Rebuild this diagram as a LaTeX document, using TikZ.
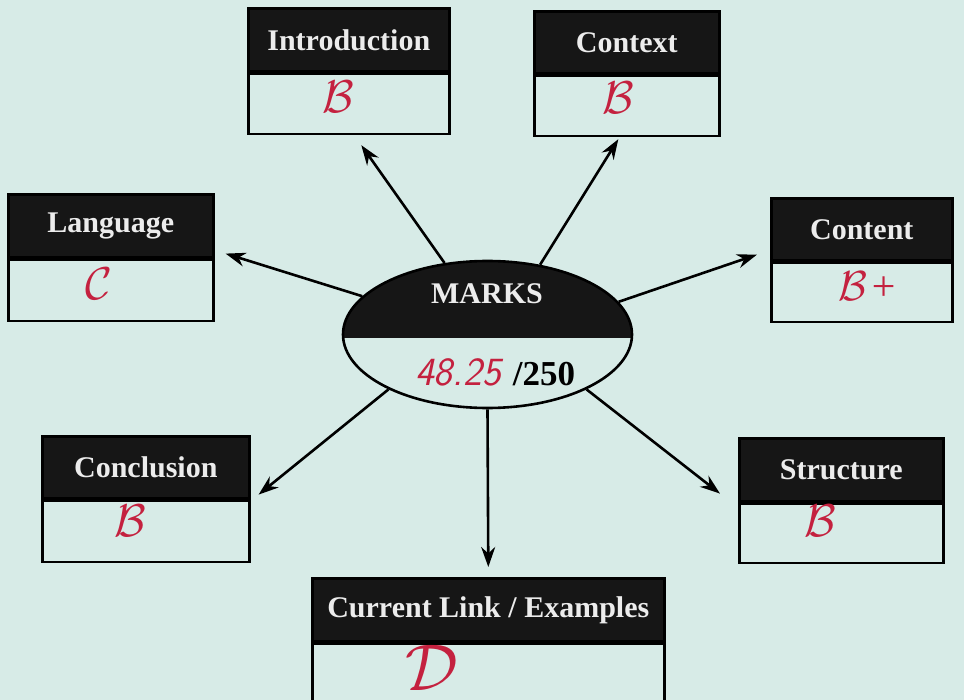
\documentclass[tikz,border=0pt]{standalone}
\usepackage{fontspec}
\setmainfont{Liberation Serif}
\usetikzlibrary{shapes.geometric,arrows.meta}
\definecolor{bg}{HTML}{D7EBE7}
\definecolor{hd}{HTML}{161616}
\definecolor{ink}{HTML}{C4213F}
\definecolor{pap}{HTML}{ECECEC}
\tikzset{
  hdr/.style={draw=black, line width=2.6pt, fill=hd, text=pap, font=\bfseries\fontsize{30}{32}\selectfont, inner sep=0pt, anchor=north west},
  bodyb/.style={draw=black, line width=2.6pt, fill=bg, inner sep=0pt, anchor=north},
  grade/.style={text=ink, inner sep=0pt},
  arr/.style={line width=2.6pt, -{Stealth[length=20pt,width=14pt]}},
}
\newcommand\hw[1]{\scalebox{4.6}{$\mathcal{#1}$}}
\begin{document}
\begin{tikzpicture}[x=1pt,y=-1pt]
\fill[bg] (0,0) rectangle (964,700);
\useasboundingbox (0,0) rectangle (964,700);

% boxes
\node[hdr, minimum width=201pt, minimum height=63pt] (intro-h) at (247,7) {Introduction};
\node[bodyb, minimum width=201pt, minimum height=60pt] (intro-b) at (intro-h.south) {};
\node[hdr, minimum width=185pt, minimum height=62pt] (ctx-h) at (533,10) {Context};
\node[bodyb, minimum width=185pt, minimum height=60pt] (ctx-b) at (ctx-h.south) {};
\node[hdr, minimum width=205pt, minimum height=63pt] (lang-h) at (7,193) {Language};
\node[bodyb, minimum width=205pt, minimum height=61pt] (lang-b) at (lang-h.south) {};
\node[hdr, minimum width=181pt, minimum height=62pt] (cont-h) at (770,197) {Content};
\node[bodyb, minimum width=181pt, minimum height=59pt] (cont-b) at (cont-h.south) {};
\node[hdr, minimum width=207pt, minimum height=62pt] (concl-h) at (41,435) {Conclusion};
\node[bodyb, minimum width=207pt, minimum height=61pt] (concl-b) at (concl-h.south) {};
\node[hdr, minimum width=204pt, minimum height=63pt] (struct-h) at (738,437) {Structure};
\node[bodyb, minimum width=204pt, minimum height=59pt] (struct-b) at (struct-h.south) {};
\node[hdr, minimum width=352pt, minimum height=63pt] (cur-h) at (311,577) {Current Link / Examples};
\node[bodyb, minimum width=352pt, minimum height=62pt] (cur-b) at (cur-h.south) {};

% grades
\node[grade] (intro-g) at (338,97) {\hw{B}};
\node[grade] (ctx-g) at (618,98) {\hw{B}};
\node[grade] (lang-g) at (99,284) {\hw{C}};
\node[grade] (cont-g) at (868,286) {\scalebox{4.2}{$\mathcal{B}$\kern0.5pt\textit{+}}};
\node[grade] (concl-g) at (130,521) {\hw{B}};
\node[grade] (struct-g) at (820,521) {\hw{B}};
\node[grade] (cur-g) at (432,668) {\scalebox{6.6}{$\mathcal{D}$}};

% central ellipse
\node[ellipse, fill=bg, minimum width=289pt, minimum height=147pt, inner sep=0pt, outer sep=1.3pt] (marks) at (487.5,334.5) {};
\begin{scope}
  \clip (487.5,334.5) ellipse [x radius=144.5pt, y radius=73.5pt];
  \fill[hd] (330,250) rectangle (650,338);
\end{scope}
\draw[line width=2.6pt] (marks.center) ellipse [x radius=144.5pt, y radius=73.5pt];
\node[text=pap, font=\bfseries\fontsize{30}{32}\selectfont, inner sep=0pt] (marks-t) at (487,294) {MARKS};
\node[grade, font=\sffamily\itshape\fontsize{40}{40}\selectfont] (score) at (458,372) {48.25};
\node[inner sep=0pt, font=\bfseries\fontsize{35}{35}\selectfont] (total) at (544,374) {/250};

% arrows
\draw[arr] (marks.121.9) -- ([xshift=12.5pt,yshift=-10pt]intro-b.south);
\draw[arr] (marks.53.7) -- ([xshift=-8.5pt,yshift=-2pt]ctx-b.south);
\draw[arr] (marks.163.6) -- ([xshift=11pt,yshift=5pt]lang-b.north east);
\draw[arr] (marks.14.6) -- ([xshift=-13pt,yshift=7pt]cont-b.north west);
\draw[arr] (marks.209.2) -- ([xshift=8pt,yshift=5pt]concl-b.north east);
\draw[arr] (marks.331.4) -- ([xshift=-18pt,yshift=9pt]struct-b.north west);
\draw[arr] (marks.270) -- ([yshift=10pt]cur-h.north);
\end{tikzpicture}
\end{document}
